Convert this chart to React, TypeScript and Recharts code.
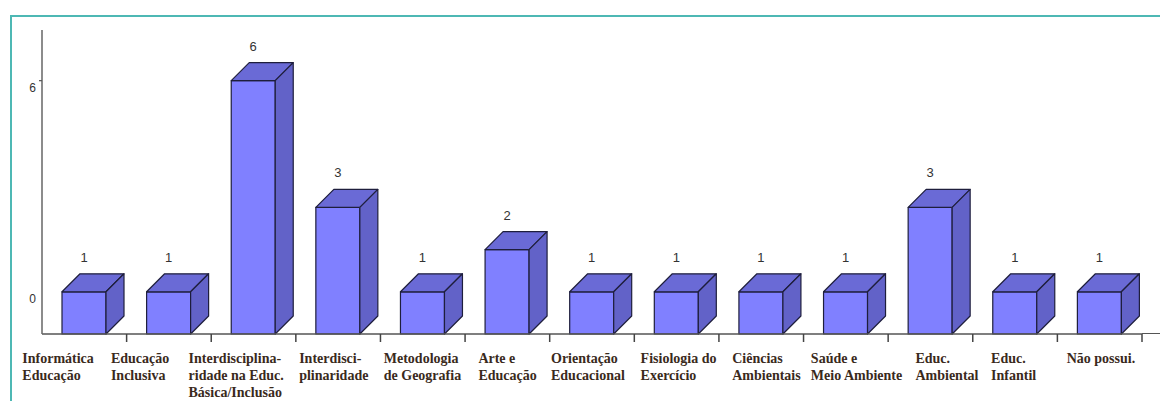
import { BarChart, Bar, XAxis, YAxis, LabelList } from "recharts"

const categories = [
  "Informática\nEducação",
  "Educação\nInclusiva",
  "Interdisciplina-\nridade na Educ.\nBásica/Inclusão",
  "Interdisci-\nplinaridade",
  "Metodologia\nde Geografia",
  "Arte e\nEducação",
  "Orientação\nEducacional",
  "Fisiologia do\nExercício",
  "Ciências\nAmbientais",
  "Saúde e\nMeio Ambiente",
  "Educ.\nAmbiental",
  "Educ.\nInfantil",
  "Não possui.",
]
const counts = [1, 1, 6, 3, 1, 2, 1, 1, 1, 1, 3, 1, 1]
const yTicks = [1, 6]
const yTickLabels = ["0", "6"]

const data = categories.map((name, i) => ({ name, value: counts[i] }))

// layout tweaks for the hand-placed category captions
const LABEL_DX = [-62, -58, -65, -39, -39, -29, -41, -36, -29, -35, -15, -24, -33]
const DEPTH = 18
const W = 1160
const H = 401
const BAND = (W - 42 - 18) / categories.length

function Box3D(props: any) {
  const { x, y, width, height } = props
  if (height <= 0) return null
  const d = DEPTH
  return (
    <g stroke="#1e1e3c" strokeWidth={1.2} strokeLinejoin="round">
      <rect x={x} y={y} width={width} height={height} fill="#8080ff" />
      <polygon
        points={`${x},${y} ${x + d},${y - d} ${x + width + d},${y - d} ${x + width},${y}`}
        fill="#6a6ad6"
      />
      <polygon
        points={`${x + width},${y} ${x + width + d},${y - d} ${x + width + d},${y + height - d} ${x + width},${y + height}`}
        fill="#6262c8"
      />
    </g>
  )
}

function ValueLabel(props: any) {
  const { x, y, width, value } = props
  return (
    <text x={x + width / 2} y={y - 30} textAnchor="middle" fontFamily="Liberation Sans, Arial" fontSize={13} fill="#333">
      {value}
    </text>
  )
}

function CategoryTick(props: any) {
  const { x, y, payload } = props
  const idx = payload.index
  const lines = String(payload.value).split("\n")
  return (
    <g>
      <line x1={x + BAND / 2} y1={y} x2={x + BAND / 2} y2={y + 8} stroke="#444" strokeWidth={1.5} />
      <text
        x={x + LABEL_DX[idx]}
        y={y + 29}
        textAnchor="start"
        fontFamily="Liberation Serif, Times New Roman, serif"
        fontWeight="bold"
        fontSize={14}
        fill="#3a2a1c"
      >
        {lines.map((l, i) => (
          <tspan key={i} x={x + LABEL_DX[idx]} dy={i === 0 ? 0 : 17}>
            {l}
          </tspan>
        ))}
      </text>
    </g>
  )
}

function ValueTick(props: any) {
  const { x, y, payload } = props
  const i = yTicks.indexOf(payload.value)
  return (
    <g>
      {payload.value === 6 && <line x1={x - 3} y1={y} x2={x} y2={y} stroke="#555" strokeWidth={1.2} />}
      <text x={x - 6} y={y + 11} textAnchor="end" fontFamily="Liberation Sans, Arial" fontSize={12} fill="#333">
        {yTickLabels[i]}
      </text>
    </g>
  )
}

export default function App() {
  return (
    <div style={{ position: "absolute", left: 0, top: 0, width: W, height: H, background: "#fff" }}>
      <div
        style={{
          position: "absolute",
          left: 10,
          top: 15,
          width: W - 10,
          height: H - 15,
          borderLeft: "2px solid #4db8b4",
          borderTop: "2px solid #4db8b4",
          boxSizing: "border-box",
        }}
      />
      <div style={{ position: "absolute", left: W - 18, top: 333, width: 18, height: 0, borderTop: "1.5px solid #555" }} />
      <div style={{ position: "absolute", left: 0, top: 0 }}>
        <BarChart width={W} height={H} data={data} margin={{ top: 30, right: 18, left: 0, bottom: 0 }}>
          <XAxis
            dataKey="name"
            interval={0}
            height={67}
            tickSize={0}
            tickMargin={0}
            tickLine={false}
            axisLine={{ stroke: "#555", strokeWidth: 1.5 }}
            tick={<CategoryTick />}
          />
          <YAxis
            width={42}
            domain={[0, 7.2]}
            ticks={yTicks}
            tickSize={0}
            tickMargin={0}
            tickLine={false}
            axisLine={{ stroke: "#666", strokeWidth: 1.5 }}
            tick={<ValueTick />}
          />
          <Bar dataKey="value" barSize={44} shape={<Box3D />} isAnimationActive={false}>
            <LabelList dataKey="value" content={<ValueLabel />} />
          </Bar>
        </BarChart>
      </div>
    </div>
  )
}
